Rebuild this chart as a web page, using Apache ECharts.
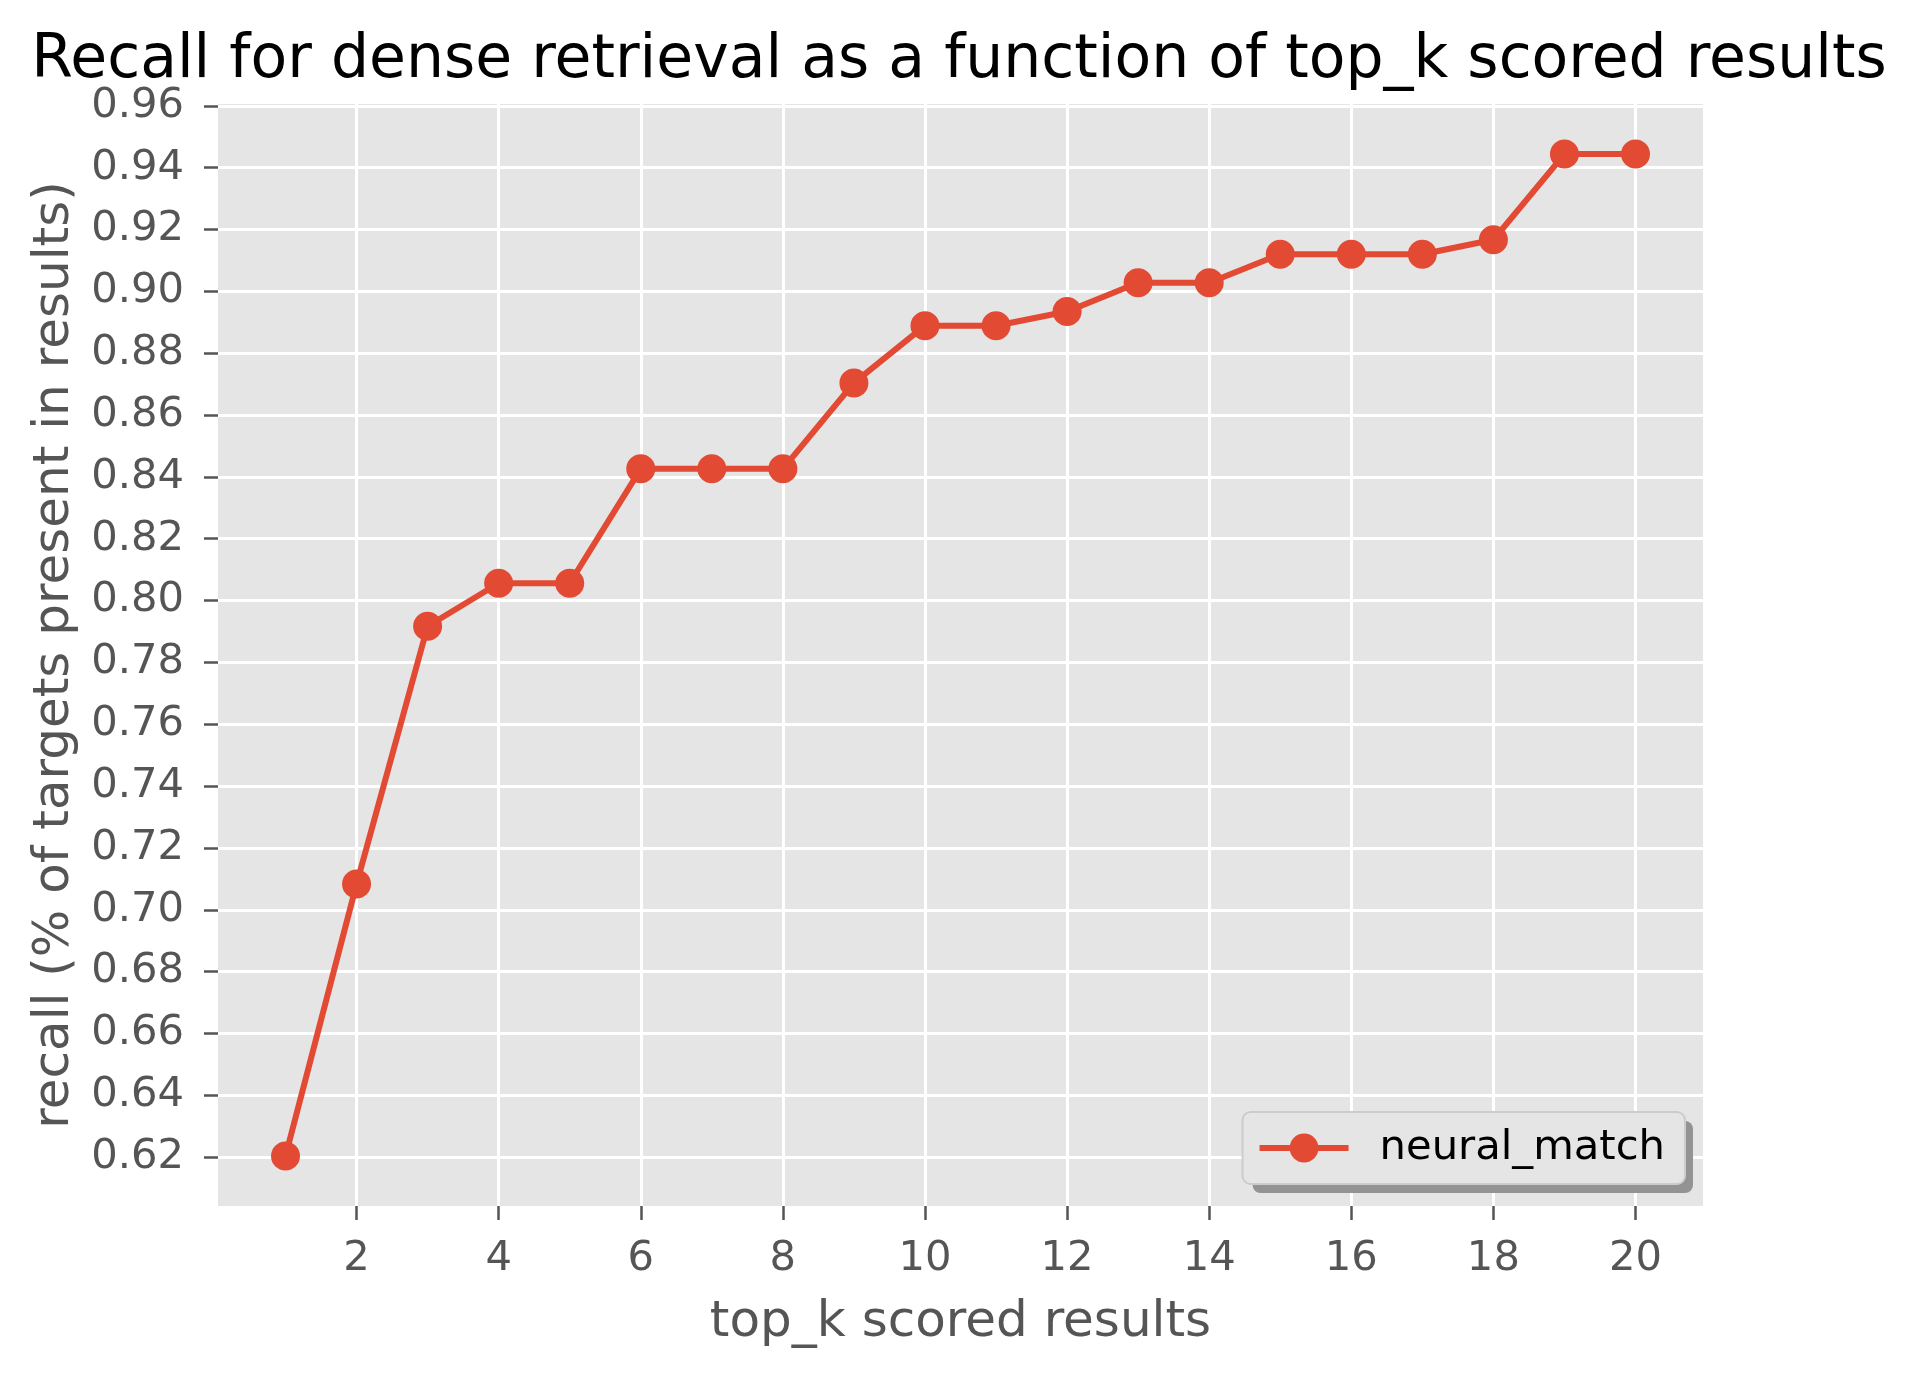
<!DOCTYPE html>
<html>
<head>
<meta charset="utf-8">
<script src="https://cdn.jsdelivr.net/npm/echarts@6/dist/echarts.min.js"></script>
<style>
  html, body { margin: 0; padding: 0; background: #ffffff; }
  #chart { width: 1918px; height: 1377px; }
</style>
</head>
<body>
<div id="chart"></div>
<script>
const topK = [1, 2, 3, 4, 5, 6, 7, 8, 9, 10, 11, 12, 13, 14, 15, 16, 17, 18, 19, 20];
const recall = [0.6204, 0.7083, 0.7917, 0.8056, 0.8056, 0.8426, 0.8426, 0.8426, 0.8704, 0.8889,
                0.8889, 0.8935, 0.9028, 0.9028, 0.9120, 0.9120, 0.9120, 0.9167, 0.9444, 0.9444];
const xTicks = [2, 4, 6, 8, 10, 12, 14, 16, 18, 20];
const yTicks = [0.62, 0.64, 0.66, 0.68, 0.70, 0.72, 0.74, 0.76, 0.78, 0.80, 0.82, 0.84, 0.86,
                0.88, 0.90, 0.92, 0.94, 0.96];
const seriesName = 'neural_match';
const titleText = 'Recall for dense retrieval as a function of top_k scored results';
const xName = 'top_k scored results';
const yName = 'recall (% of targets present in results)';

// matplotlib-style 5% data margins
const xSpan = Math.max(...topK) - Math.min(...topK);
const ySpan = Math.max(...recall) - Math.min(...recall);
const xMin = Math.min(...topK) - 0.05 * xSpan, xMax = Math.max(...topK) + 0.05 * xSpan;
const yMin = Math.min(...recall) - 0.05 * ySpan, yMax = Math.max(...recall) + 0.05 * ySpan;

const FONT = 'DejaVu Sans';
const legendBase = {
  right: 233, top: 1112,
  orient: 'horizontal',
  padding: [15, 20, 15, 14],
  itemWidth: 89, itemHeight: 36,
  backgroundColor: '#E5E5E5',
  borderRadius: 8,
  data: [seriesName]
};
const chart = echarts.init(document.getElementById('chart'), null, { renderer: 'canvas' });
chart.setOption({
  animation: false,
  backgroundColor: '#ffffff',
  title: {
    text: titleText,
    left: 'center',
    top: 31,
    padding: 0,
    textStyle: { fontFamily: FONT, fontSize: 60, fontWeight: 'normal', color: '#000000' }
  },
  grid: {
    left: 218, right: 215, top: 104, bottom: 171,
    show: true, backgroundColor: '#E5E5E5', borderWidth: 0
  },
  legend: [
    Object.assign({}, legendBase, {
      z: 4,
      borderWidth: 0,
      shadowColor: '#939393', shadowBlur: 0, shadowOffsetX: 8, shadowOffsetY: 9,
      itemStyle: { opacity: 0 },
      lineStyle: { opacity: 0 },
      textStyle: { fontFamily: FONT, fontSize: 41.7, color: 'rgba(0,0,0,0)', padding: [0, 0, 0, 26] }
    }),
    Object.assign({}, legendBase, {
      z: 5,
      borderColor: '#CCCCCC', borderWidth: 2,
      lineStyle: { width: 6, color: '#E24A33' },
      textStyle: { fontFamily: FONT, fontSize: 41.7, color: '#000000', padding: [0, 0, 0, 26] }
    })
  ],
  xAxis: {
    type: 'value', min: xMin, max: xMax,
    name: xName, nameLocation: 'middle', nameGap: 92,
    nameTextStyle: { fontFamily: FONT, fontSize: 50, color: '#555555' },
    axisLine: { show: false },
    axisTick: { show: true, length: 14, customValues: xTicks, lineStyle: { color: '#555555', width: 2.5 } },
    axisLabel: { customValues: xTicks, margin: 32, fontFamily: FONT, fontSize: 41.7, color: '#555555' },
    splitLine: { show: true, lineStyle: { color: '#ffffff', width: 3 } }
  },
  yAxis: {
    type: 'value', min: yMin, max: yMax,
    name: yName, nameLocation: 'middle', nameGap: 138, nameRotate: 90,
    nameTextStyle: { fontFamily: FONT, fontSize: 50, color: '#555555' },
    axisLine: { show: false },
    axisTick: { show: true, length: 14, customValues: yTicks, lineStyle: { color: '#555555', width: 2.5 } },
    axisLabel: { customValues: yTicks, margin: 34, fontFamily: FONT, fontSize: 41.7, color: '#555555',
                 formatter: v => v.toFixed(2) },
    splitLine: { show: true, lineStyle: { color: '#ffffff', width: 3 } }
  },
  series: [{
    name: seriesName,
    type: 'line',
    data: topK.map((k, i) => [k, recall[i]]),
    symbol: 'circle', symbolSize: 29,
    lineStyle: { color: '#E24A33', width: 6 },
    itemStyle: { color: '#E24A33' },
    z: 3
  }]
});
</script>
</body>
</html>
